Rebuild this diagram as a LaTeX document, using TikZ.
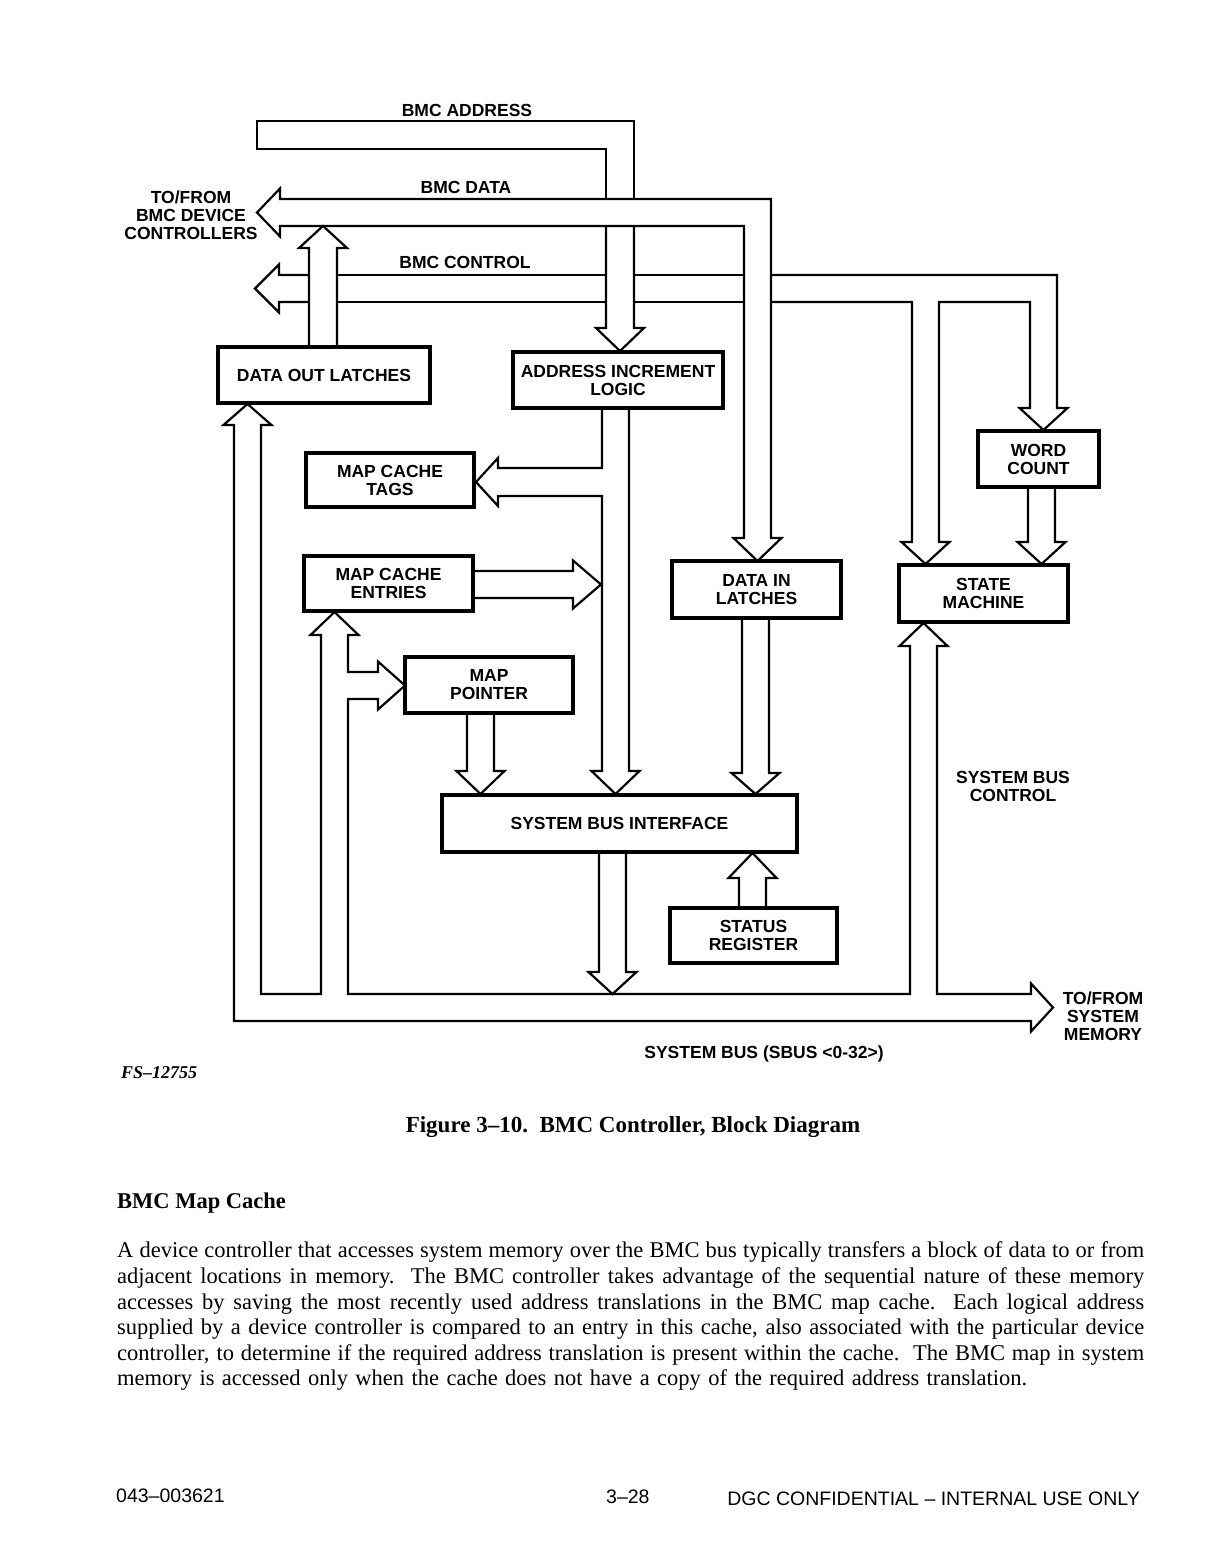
\documentclass[tikz,border=0pt]{standalone}
\usepackage{fontspec}
\setmainfont{Liberation Serif}
\newfontfamily\hv{Liberation Sans}
\begin{document}
\begin{tikzpicture}[x=1pt,y=-1pt,
  bus/.style={line width=2.2pt, line join=miter},
  blk/.style={draw, line width=3.4pt, inner sep=0pt, align=center,
    font=\hv\bfseries\fontsize{17.5}{18}\selectfont},
  lbl/.style={inner sep=0pt, align=center,
    font=\hv\bfseries\fontsize{17.5}{18}\selectfont},
  body/.style={anchor=base west, inner sep=0pt, font=\fontsize{22.5}{26}\selectfont},
  foot/.style={inner sep=0pt, font=\hv\fontsize{19.5}{22}\selectfont}
  ]
\useasboundingbox (0,0) rectangle (1210,1567);
\fill[white] (0,0) rectangle (1210,1567);

% ---------- blocks ----------
\node[blk, minimum width=212pt, minimum height=56pt] (dol) at (324,375) {DATA OUT LATCHES};
\node[blk, minimum width=210pt, minimum height=56pt] (ail) at (618,380) {ADDRESS INCREMENT\\LOGIC};
\node[blk, minimum width=168pt, minimum height=54pt] (mct) at (390,480) {MAP CACHE\\TAGS};
\node[blk, minimum width=169pt, minimum height=55pt] (mce) at (388.5,583.5) {MAP CACHE\\ENTRIES};
\node[blk, minimum width=168pt, minimum height=56pt] (mp) at (489,685) {MAP\\POINTER};
\node[blk, minimum width=169pt, minimum height=57pt] (dil) at (756.5,589.5) {DATA IN\\LATCHES};
\node[blk, minimum width=121pt, minimum height=56pt] (wc) at (1038.5,459) {WORD\\COUNT};
\node[blk, minimum width=169pt, minimum height=57pt] (sm) at (983.5,593.5) {STATE\\MACHINE};
\node[blk, minimum width=355pt, minimum height=57pt] (sbi) at (619.5,823.5) {SYSTEM BUS INTERFACE};
\node[blk, minimum width=167pt, minimum height=55pt] (sr) at (753.5,935.5) {STATUS\\REGISTER};

% ---------- BMC ADDRESS bus ----------
\draw[bus] (606,199) -- (606,149) -- (257,149) -- (257,121) -- (634,121) -- (634,199);
\draw[bus] (634,226) -- (634,328) -- (644,328) -- (620,351) -- (596,328) -- (606,328) -- (606,226);

% ---------- BMC DATA bus ----------
\draw[bus] (744,226) -- (280,226) -- (280,236.5) -- (257,212.5) -- (280,188.5) -- (280,199)
  -- (771,199) -- (771,538) -- (781.5,538) -- (757.5,561) -- (733.5,538) -- (744,538) -- cycle;

% ---------- BMC CONTROL bus ----------
\draw[bus] (309,275) -- (279,275) -- (279,264.5) -- (255,288.5) -- (279,312.5) -- (279,302) -- (309,302);
\draw[bus] (337,275) -- (606,275) (337,302) -- (606,302);
\draw[bus] (634,275) -- (744,275) (634,302) -- (744,302);
\draw[bus] (771,275) -- (1057,275) -- (1057,408) -- (1067.5,408) -- (1043.5,430) -- (1019.5,408)
  -- (1030,408) -- (1030,302) -- (939,302) -- (939,542) -- (949.5,542) -- (925.5,564)
  -- (901.5,542) -- (912,542) -- (912,302) -- (771,302);

% ---------- data out latches -> BMC data ----------
\draw[bus] (309,347) -- (309,248) -- (299,248) -- (323,226) -- (347,248) -- (337,248) -- (337,347);

% ---------- address increment logic -> tags / system bus interface ----------
\draw[bus] (629,408) -- (629,771) -- (639.5,771) -- (615.5,794) -- (591.5,771) -- (602,771)
  -- (602,496) -- (498,496) -- (498,506) -- (476,482) -- (498,458) -- (498,468) -- (602,468) -- (602,408);

% ---------- map cache entries -> ----------
\draw[bus] (473,571) -- (573,571) -- (573,560.5) -- (601,584.5) -- (573,608.5) -- (573,598) -- (473,598);

% ---------- map pointer -> SBI ----------
\draw[bus] (467,713) -- (467,771) -- (456.5,771) -- (480.5,794) -- (504.5,771) -- (494,771) -- (494,713);

% ---------- data in latches -> SBI ----------
\draw[bus] (742,618) -- (742,773) -- (731.5,773) -- (755.5,794) -- (779.5,773) -- (769,773) -- (769,618);

% ---------- word count -> state machine ----------
\draw[bus] (1028,487) -- (1028,542) -- (1017.5,542) -- (1041.5,564) -- (1065.5,542) -- (1055,542) -- (1055,487);

% ---------- status register -> SBI ----------
\draw[bus] (739,908) -- (739,878) -- (728.5,878) -- (752.5,853) -- (776.5,878) -- (766,878) -- (766,908);

% ---------- SBI -> system bus ----------
\draw[bus] (599,852) -- (599,972) -- (588.5,972) -- (612.5,994) -- (636.5,972) -- (626,972) -- (626,852);

% ---------- system bus ----------
\draw[bus] (234,425) -- (234,1021) -- (1031,1021) -- (1031,1031.5) -- (1053,1007.5) -- (1031,983.5)
  -- (1031,994) -- (937,994) -- (937,646) -- (947.5,646) -- (923.5,623) -- (899.5,646) -- (910,646)
  -- (910,994) -- (348,994) -- (348,699) -- (378,699) -- (378,709.5) -- (405,685.5) -- (378,661.5)
  -- (378,672) -- (348,672) -- (348,635) -- (358.5,635) -- (334.5,612) -- (310.5,635) -- (321,635)
  -- (321,994) -- (261,994) -- (261,425) -- (271.5,425) -- (247.5,404) -- (223.5,425) -- cycle;

% ---------- labels ----------
\node[lbl] (la) at (467,110) {BMC ADDRESS};
\node[lbl] (ld) at (466,187) {BMC DATA};
\node[lbl] (lc) at (465,262) {BMC CONTROL};
\node[lbl] (ldev) at (191,215) {TO/FROM\\BMC DEVICE\\CONTROLLERS};
\node[lbl] (lsbc) at (1013,786) {SYSTEM BUS\\CONTROL};
\node[lbl] (lmem) at (1103,1016) {TO/FROM\\SYSTEM\\MEMORY};
\node[lbl] (lsb) at (764,1054) {SYSTEM BUS (SBUS <0-32>)};

% ---------- page text ----------
\node[anchor=base west, inner sep=0pt, font=\bfseries\itshape\fontsize{18}{20}\selectfont] (fs) at (121,1078) {FS–12755};
\node[anchor=base, inner sep=0pt, font=\bfseries\fontsize{23}{26}\selectfont] (cap) at (633,1132) {Figure 3–10.\ \ BMC Controller, Block Diagram};
\node[anchor=base west, inner sep=0pt, font=\bfseries\fontsize{22.5}{26}\selectfont] (head) at (117,1208) {BMC Map Cache};

\node[body] (p1) at (117,1257) {\makebox[1027pt][s]{A device controller that accesses system memory over the BMC bus typically transfers a block of data to or from}};
\node[body] (p2) at (117,1283) {\makebox[1027pt][s]{adjacent locations in memory.\ \ The BMC controller takes advantage of the sequential nature of these memory}};
\node[body] (p3) at (117,1309) {\makebox[1027pt][s]{accesses by saving the most recently used address translations in the BMC map cache.\ \ Each logical address}};
\node[body] (p4) at (117,1334) {\makebox[1027pt][s]{supplied by a device controller is compared to an entry in this cache, also associated with the particular device}};
\node[body] (p5) at (117,1360) {\makebox[1027pt][s]{controller, to determine if the required address translation is present within the cache.\ \ The BMC map in system}};
\node[body] (p6) at (117,1385) {\makebox[910pt][s]{memory is accessed only when the cache does not have a copy of the required address translation.}};

\node[foot, anchor=base west] (f1) at (116,1502) {043–003621};
\node[foot, anchor=base west] (f2) at (606,1503) {3–28};
\node[foot, anchor=base east] (f3) at (1140,1505) {DGC CONFIDENTIAL – INTERNAL USE ONLY};
\end{tikzpicture}
\end{document}
